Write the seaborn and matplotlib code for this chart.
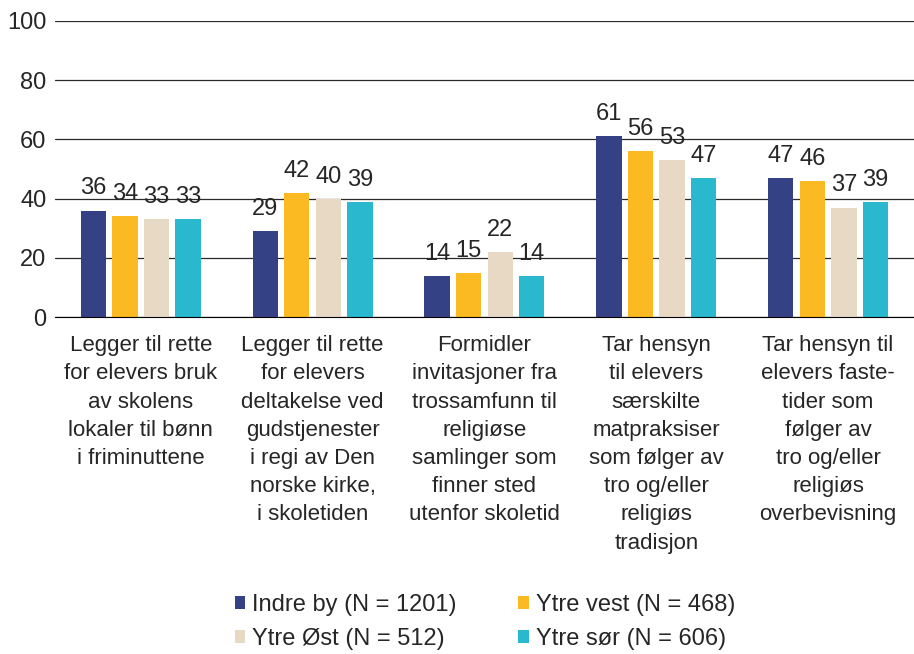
import pandas as pd
import matplotlib.pyplot as plt
import seaborn as sns

# Kategorier (x-akse)
kategorier = [
    "Legger til rette\nfor elevers bruk\nav skolens\nlokaler til bønn\ni friminuttene",
    "Legger til rette\nfor elevers\ndeltakelse ved\ngudstjenester\ni regi av Den\nnorske kirke,\ni skoletiden",
    "Formidler\ninvitasjoner fra\ntrossamfunn til\nreligiøse\nsamlinger som\nfinner sted\nutenfor skoletid",
    "Tar hensyn\ntil elevers\nsærskilte\nmatpraksiser\nsom følger av\ntro og/eller\nreligiøs\ntradisjon",
    "Tar hensyn til\nelevers faste-\ntider som\nfølger av\ntro og/eller\nreligiøs\noverbevisning",
]

serier = ["Indre by (N = 1201)", "Ytre vest (N = 468)", "Ytre Øst (N = 512)", "Ytre sør (N = 606)"]
indre_by = [36, 29, 14, 61, 47]
ytre_vest = [34, 42, 15, 56, 46]
ytre_ost = [33, 40, 22, 53, 37]
ytre_sor = [33, 39, 14, 47, 39]

farger = ["#354185", "#FBBA22", "#E8D9C4", "#2AB8CF"]

rows = []
for navn, verdier in zip(serier, [indre_by, ytre_vest, ytre_ost, ytre_sor]):
    for kat, v in zip(kategorier, verdier):
        rows.append({"kategori": kat, "serie": navn, "verdi": v})
df = pd.DataFrame(rows)

sns.set_style("white")
plt.rcParams['font.family'] = ['Liberation Sans', 'DejaVu Sans']

fig = plt.figure(figsize=(9.14, 6.54), dpi=100)
ax = fig.add_axes([0.06, 0.515, 0.94, 0.453])

sns.barplot(data=df, x="kategori", y="verdi", hue="serie", palette=farger,
            saturation=1, width=0.735, gap=0.2, linewidth=0, ax=ax)

# Verdietiketter over søylene
for cont in ax.containers:
    ax.bar_label(cont, fmt="%d", padding=8, fontsize=17)

ax.set_ylim(0, 100)
ax.set_yticks(range(0, 101, 20))
ax.yaxis.grid(True, color="#2a2a2a", linewidth=0.9)
ax.set_axisbelow(True)
for s in ["left", "right", "top"]:
    ax.spines[s].set_visible(False)
ax.spines["bottom"].set_color("black")
ax.tick_params(axis="y", labelsize=17, length=0, pad=6)
ax.tick_params(axis="x", labelsize=16, length=0, pad=13)
for t in ax.get_xticklabels():
    t.set_linespacing(1.45)
ax.set_xlabel("")
ax.set_ylabel("")

# Legende radvis: Indre by, Ytre vest / Ytre Øst, Ytre sør
handles, labels = ax.get_legend_handles_labels()
ax.get_legend().remove()
rekkefolge = [0, 2, 1, 3]
fig.legend([handles[i] for i in rekkefolge], [labels[i] for i in rekkefolge],
           loc="center", bbox_to_anchor=(485 / 914, 1 - 622 / 654), ncol=2, frameon=False,
           fontsize=17, handlelength=0.45, handleheight=0.45, handletextpad=0.3,
           columnspacing=2.6, labelspacing=0.5)

plt.savefig("out.png", dpi=100)
